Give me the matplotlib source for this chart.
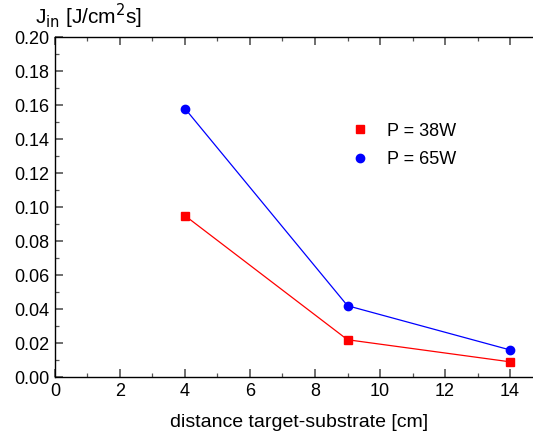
import matplotlib
matplotlib.use("Agg")
import matplotlib.pyplot as plt
from matplotlib.ticker import MultipleLocator

plt.rcParams["font.family"] = ["Liberation Sans", "DejaVu Sans"]

distance = [4, 9, 14]
flux_38w = [0.095, 0.022, 0.009]
flux_65w = [0.158, 0.042, 0.016]
series_labels = ["P = 38W", "P = 65W"]
x_ticks = [0, 2, 4, 6, 8, 10, 12, 14]
y_ticks = [0.00, 0.02, 0.04, 0.06, 0.08, 0.10, 0.12, 0.14, 0.16, 0.18, 0.20]

fig = plt.figure(figsize=(5.33, 4.37), dpi=100)
ax = fig.add_axes([0.103, 0.137, 0.915, 0.778])

ax.plot(distance, flux_38w, "-", color="red", lw=0.9)
ax.plot(distance, flux_65w, "-", color="blue", lw=0.9)
ax.plot(distance, flux_38w, "s", color="red", ms=6, ls="none", label=series_labels[0])
ax.plot(distance, flux_65w, "o", color="blue", ms=6, ls="none", label=series_labels[1])

ax.set_xlim(0, 15)
ax.set_ylim(0, 0.2)
ax.set_xticks(x_ticks)
ax.set_yticks(y_ticks)
ax.set_yticklabels([f"{v:.2f}" for v in y_ticks])
ax.xaxis.set_minor_locator(MultipleLocator(1))
ax.yaxis.set_minor_locator(MultipleLocator(0.01))
ax.tick_params(which="both", direction="in", top=True, right=True,
               labelsize=13, color="#555555")
ax.tick_params(which="major", length=6, width=1.2, pad=4)
ax.tick_params(which="minor", length=3, width=0.9)
for sp in ax.spines.values():
    sp.set_linewidth(1.0)

ax.set_xlabel("distance target-substrate [cm]", fontsize=14, labelpad=10)
fig.text(0.066, 0.945, r"J$_{\rm in}$ [J/cm$^2$s]", fontsize=15, ha="left", va="baseline")

ax.legend(loc="upper left", bbox_to_anchor=(0.573, 0.77), frameon=False,
          fontsize=13, handletextpad=0.5, labelspacing=0.65, borderaxespad=0)

fig.savefig("out.png", dpi=100)
